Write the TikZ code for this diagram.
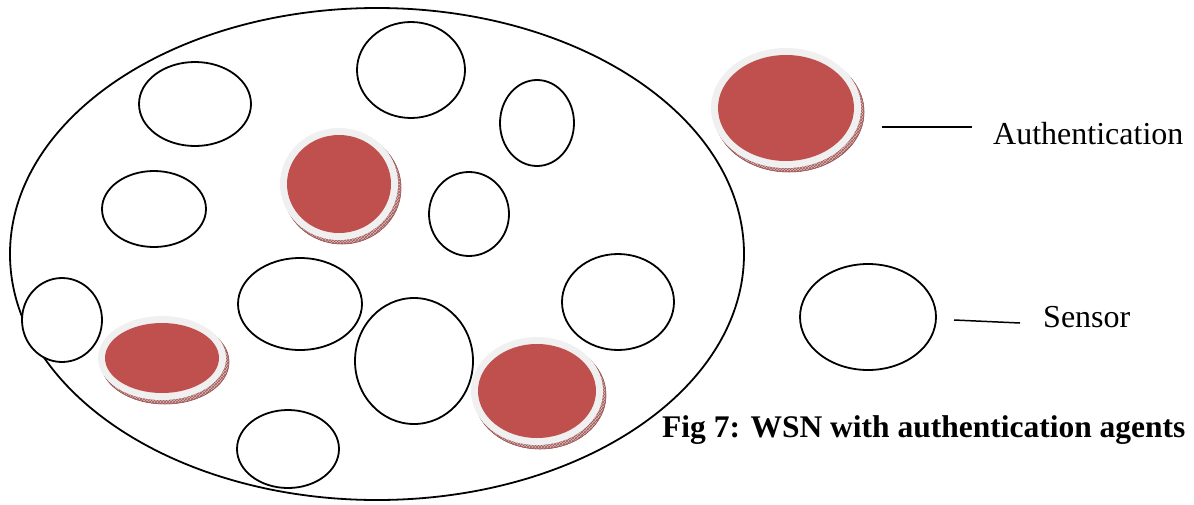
\documentclass[tikz,border=0pt]{standalone}
\usepackage{fontspec}
\setmainfont{Liberation Serif}
\usetikzlibrary{shapes.geometric,patterns}
\definecolor{agentred}{RGB}{192,80,77}
\definecolor{ringgray}{RGB}{240,240,240}
\definecolor{rimred}{RGB}{160,90,90}
\definecolor{rimfill}{RGB}{220,185,185}
\tikzset{
  sensor/.style={ellipse, draw=black, line width=1.8pt, fill=white, inner sep=0pt},
  field/.style={ellipse, draw=black, line width=1.8pt, inner sep=0pt},
  rim/.style={ellipse, draw=rimred, line width=0.5pt, fill=rimfill, pattern color=rimred, inner sep=0pt},
  ring/.style={ellipse, fill=ringgray, inner sep=0pt},
  core/.style={ellipse, fill=agentred, inner sep=0pt},
  legendline/.style={line width=1.5pt},
  label/.style={font=\fontsize{32}{36}\selectfont, inner sep=0pt}
}
% authentication agent: rim (offset), grey ring, red top
\newcommand{\agentdisc}[5]{%
  \node[rim, minimum width=#4*2pt, minimum height=#5*2pt] (#1-rim) at (#2+3,#3+4) {};
  \node[rim, pattern=crosshatch, minimum width=#4*2pt, minimum height=#5*2pt] at (#2+3,#3+4) {};
  \node[ring, minimum width=#4*2pt, minimum height=#5*2pt] (#1) at (#2,#3) {};
  \node[core, minimum width=(#4-7)*2pt, minimum height=(#5-7)*2pt] (#1-top) at (#2,#3) {};
}
\begin{document}
\begin{tikzpicture}[x=1pt,y=-1pt]
\useasboundingbox (0,0) rectangle (1194,504);
% network field
\node[field, minimum width=734pt, minimum height=492pt] (net) at (377,254) {};
% sensors
\node[sensor, minimum width=108pt, minimum height=96pt]  (s1)  at (411,70) {};
\node[sensor, minimum width=112pt, minimum height=84pt]  (s2)  at (195,104) {};
\node[sensor, minimum width=74pt,  minimum height=86pt]  (s3)  at (537,123) {};
\node[sensor, minimum width=104pt, minimum height=76pt]  (s4)  at (154,209) {};
\node[sensor, minimum width=80pt,  minimum height=84pt]  (s5)  at (469,214) {};
\node[sensor, minimum width=124pt, minimum height=92pt]  (s6)  at (300,304) {};
\node[sensor, minimum width=112pt, minimum height=96pt]  (s7)  at (618,302) {};
\node[sensor, minimum width=80pt,  minimum height=84pt]  (s8)  at (62,320) {};
\node[sensor, minimum width=118pt, minimum height=126pt] (s9)  at (414,361) {};
\node[sensor, minimum width=102pt, minimum height=78pt]  (s10) at (288,449) {};
% authentication agents
\agentdisc{a1}{339}{184}{59}{56}
\agentdisc{a2}{162}{358}{64}{42}
\agentdisc{a3}{537}{391}{66}{54}
% legend
\agentdisc{la}{786}{108}{75}{60}
\node[sensor, minimum width=136pt, minimum height=106pt] (ls) at (868,317) {};
\node[label, anchor=west] (lta) at (993,134) {Authentication};
\node[label, anchor=west] (lts) at (1043,317) {Sensor};
\coordinate (la-end) at (882,127);
\coordinate (ls-end) at (954,320);
\draw[legendline] (la-end) -- (972,127);
\draw[legendline] (ls-end) -- (1020,323);
\node[label, anchor=west, font=\fontsize{31.5}{36}\selectfont\bfseries] (cap) at (662,430) {Fig 7: WSN with authentication agents};
\end{tikzpicture}
\end{document}
